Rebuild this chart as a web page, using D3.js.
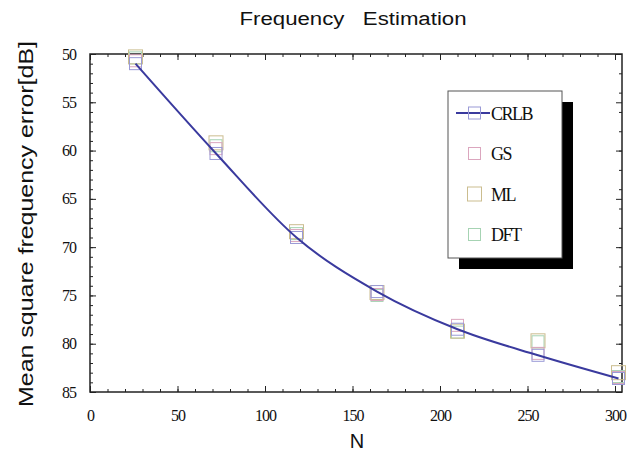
<!DOCTYPE html>
<html>
<head>
<meta charset="utf-8">
<script src="https://cdn.jsdelivr.net/npm/d3@7"></script>
<style>
  html, body { margin: 0; padding: 0; background: #fff; }
  svg { display: block; }
  .tick text { font-family: "Liberation Serif", "Times New Roman", serif; }
</style>
</head>
<body>
<svg id="chart" width="627" height="452"></svg>
<script>
// ---- data ----
const N      = [26, 72, 118, 164, 210, 256, 302];
const CRLB   = [51.0, 60.3, 69.0, 74.6, 78.5, 81.2, 83.6];
const GS     = [50.7, 59.8, 68.8, 74.9, 78.1, 81.0, 83.5];
const ML     = [50.3, 59.2, 68.4, 74.7, 78.7, 79.7, 83.0];
const DFT    = [50.4, 59.5, 68.6, 75.0, 78.8, 79.8, 83.4];
const seriesNames = ["CRLB", "GS", "ML", "DFT"];
const xTickLabels = [0, 50, 100, 150, 200, 250, 300];
const yTickLabels = [50, 55, 60, 65, 70, 75, 80, 85];

const title = "Frequency\u00A0\u00A0 Estimation";
const xLabel = "N";
const yLabel = "Mean square frequency error[dB]";

// ---- layout / style ----
const svg = d3.select("#chart");
const L = 90, R = 622, T = 54, B = 392;
const x = d3.scaleLinear().domain([0, 304]).range([L, R]);
const y = d3.scaleLinear().domain([50, 85]).range([T, B]);

const colors = { CRLB: "#9a9ad6", GS: "#dba6be", ML: "#cbbd8f", DFT: "#a6d3b3" };
const sizes  = { CRLB: 12, GS: 12, ML: 14, DFT: 12 };
const lineColor = "#3a3a9e";
const values = { CRLB, GS, ML, DFT };

const serif = "'Liberation Serif', 'Times New Roman', serif";
const sans = "'Liberation Sans', Arial, sans-serif";

// ---- axes (inward ticks) ----
function styleAxis(g) {
  g.attr("font-family", null).attr("font-size", null);
  g.select(".domain").remove();
  g.selectAll(".tick line").attr("stroke", "#222").attr("stroke-width", 1);
  g.selectAll(".tick text")
    .style("font-family", serif).style("font-size", "16px")
    .attr("fill", "#111").attr("letter-spacing", "-1px");
}
const xMinor = d3.range(0, 301, 10);
const yMinor = d3.range(50, 86, 1);

// bottom
svg.append("g").attr("transform", `translate(0,${B})`)
  .call(d3.axisBottom(x).tickValues(xMinor).tickSize(-3).tickFormat("")).call(styleAxis);
svg.append("g").attr("transform", `translate(0,${B})`)
  .call(d3.axisBottom(x).tickValues(xTickLabels).tickSize(-6).tickPadding(18).tickFormat(d3.format("d")))
  .call(styleAxis);
// top
svg.append("g").attr("transform", `translate(0,${T})`)
  .call(d3.axisTop(x).tickValues(xMinor).tickSize(-3).tickFormat("")).call(styleAxis);
svg.append("g").attr("transform", `translate(0,${T})`)
  .call(d3.axisTop(x).tickValues(xTickLabels).tickSize(-6).tickFormat("")).call(styleAxis);
// left
svg.append("g").attr("transform", `translate(${L},0)`)
  .call(d3.axisLeft(y).tickValues(yMinor).tickSize(-3).tickFormat("")).call(styleAxis);
svg.append("g").attr("transform", `translate(${L},0)`)
  .call(d3.axisLeft(y).tickValues(yTickLabels).tickSize(-6).tickPadding(14).tickFormat(d3.format("d")))
  .call(styleAxis);
// right
svg.append("g").attr("transform", `translate(${R},0)`)
  .call(d3.axisRight(y).tickValues(d3.range(50, 86, 2)).tickSize(-3).tickFormat("")).call(styleAxis);
svg.append("g").attr("transform", `translate(${R},0)`)
  .call(d3.axisRight(y).tickValues(yTickLabels).tickSize(-6).tickFormat("")).call(styleAxis);

// frame
svg.append("rect").attr("x", L).attr("y", T).attr("width", R - L).attr("height", B - T)
  .attr("fill", "none").attr("stroke", "#222").attr("stroke-width", 1.5);

// ---- markers ----
const order = ["DFT", "ML", "GS", "CRLB"];
order.forEach(name => {
  const s = sizes[name];
  svg.append("g").selectAll("rect").data(N.map((n, i) => [n, values[name][i]])).join("rect")
    .attr("x", d => x(d[0]) - s / 2).attr("y", d => y(d[1]) - s / 2)
    .attr("width", s).attr("height", s)
    .attr("fill", "none").attr("stroke", colors[name]).attr("stroke-width", 1);
});

// ---- CRLB line ----
const line = d3.line().x(d => x(d[0])).y(d => y(d[1])).curve(d3.curveMonotoneX);
svg.append("path").datum(N.map((n, i) => [n, CRLB[i]]))
  .attr("d", line).attr("fill", "none").attr("stroke", lineColor).attr("stroke-width", 2);

// ---- legend ----
const lg = svg.append("g");
const lx = 448, ly = 91, lw = 114, lh = 167;
lg.append("rect").attr("x", lx + 11).attr("y", ly + 11).attr("width", lw).attr("height", lh).attr("fill", "#000");
lg.append("rect").attr("x", lx).attr("y", ly).attr("width", lw).attr("height", lh)
  .attr("fill", "#fff").attr("stroke", "#555").attr("stroke-width", 1);
seriesNames.forEach((name, i) => {
  const cy = 113 + i * 40.5;
  const s = sizes[name];
  if (name === "CRLB") {
    lg.append("line").attr("x1", 456).attr("x2", 490).attr("y1", cy).attr("y2", cy)
      .attr("stroke", lineColor).attr("stroke-width", 2);
  }
  lg.append("rect").attr("x", 474.5 - s / 2).attr("y", cy - s / 2).attr("width", s).attr("height", s)
    .attr("fill", "none").attr("stroke", colors[name]).attr("stroke-width", 1);
  lg.append("text").attr("x", 491).attr("y", cy + 6.5).text(name)
    .style("font-family", serif).style("font-size", "18px").attr("letter-spacing", "-1.5px").attr("fill", "#111");
});

// ---- titles ----
svg.append("text").attr("x", 353).attr("y", 25).attr("text-anchor", "middle")
  .style("font-family", sans).style("font-size", "18px").attr("fill", "#111")
  .attr("textLength", 227).attr("lengthAdjust", "spacingAndGlyphs").text(title);
svg.append("text").attr("x", 357).attr("y", 448).attr("text-anchor", "middle")
  .style("font-family", sans).style("font-size", "20px").attr("fill", "#111").text(xLabel);
svg.append("text").attr("transform", "translate(33,224) rotate(-90)").attr("text-anchor", "middle")
  .style("font-family", sans).style("font-size", "20px").attr("fill", "#111")
  .attr("textLength", 366).attr("lengthAdjust", "spacingAndGlyphs").text(yLabel);
</script>
</body>
</html>
